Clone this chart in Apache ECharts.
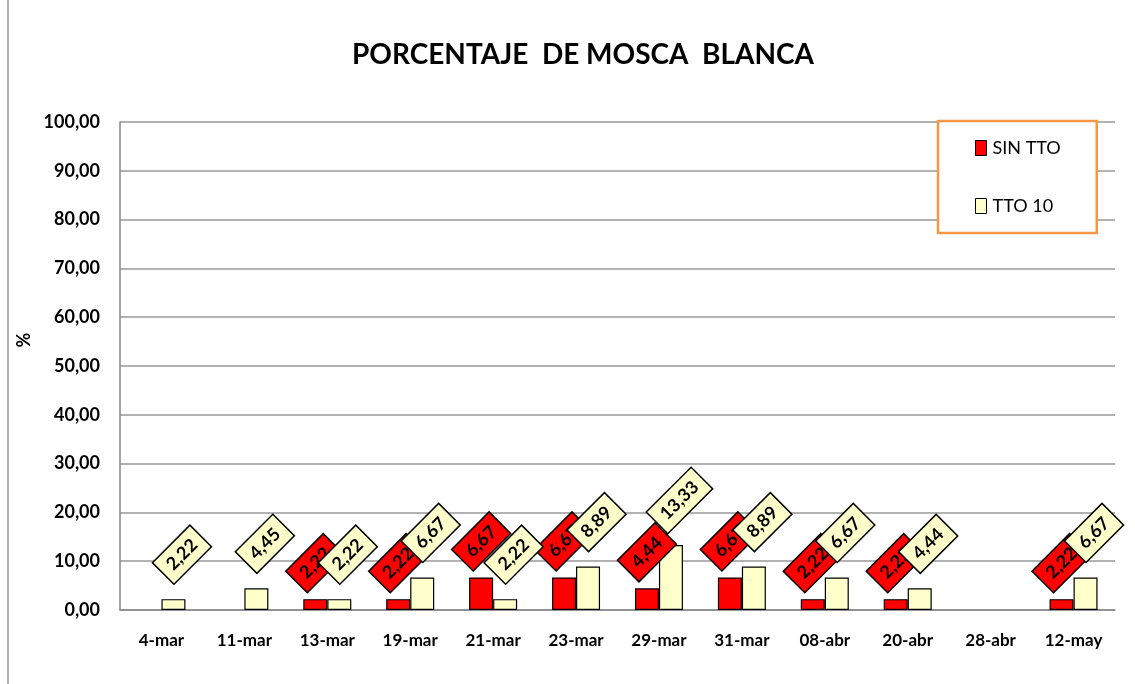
<!DOCTYPE html>
<html>
<head>
<meta charset="utf-8">
<script src="https://cdn.jsdelivr.net/npm/echarts@6/dist/echarts.min.js"></script>
<style>
  html, body { margin: 0; padding: 0; background: #fff; }
  #main { width: 1135px; height: 684px; }
</style>
</head>
<body>
<div id="main"></div>
<script>
var categories = ['4-mar', '11-mar', '13-mar', '19-mar', '21-mar', '23-mar', '29-mar', '31-mar', '08-abr', '20-abr', '28-abr', '12-may'];
var sinTto = [0, 0, 2.22, 2.22, 6.67, 6.67, 4.44, 6.67, 2.22, 2.22, 0, 2.22];
var tto10 = [2.22, 4.45, 2.22, 6.67, 2.22, 8.89, 13.33, 8.89, 6.67, 4.44, 0, 6.67];
var yTicks = [0, 10, 20, 30, 40, 50, 60, 70, 80, 90, 100];

var fontFam = 'Lato, "Open Sans", sans-serif';

function coma(v) {
    return v.toFixed(2).replace('.', ',');
}

// ceros: sin barra y sin etiqueta
function armar(arr) {
    return arr.map(function (v) {
        if (v > 0) return v;
        return { value: v, itemStyle: { borderWidth: 0 }, label: { show: false } };
    });
}

function serie(name, arr, color, dx) {
    return {
        name: name,
        type: 'bar',
        data: armar(arr),
        barWidth: 24,
        barGap: '0%',
        itemStyle: { color: color, borderColor: '#000', borderWidth: 1.2 },
        label: {
            show: true,
            position: 'top',
            distance: 36,
            offset: [dx, 0],
            rotate: 45,
            align: 'center',
            verticalAlign: 'middle',
            formatter: function (p) { return coma(p.value); },
            color: '#000',
            fontFamily: fontFam,
            fontWeight: 'bold',
            fontSize: 18,
            lineHeight: 21,
            backgroundColor: color,
            borderColor: '#000',
            borderWidth: 1.5,
            padding: [4, 8, 4, 8]
        }
    };
}

var myChart = echarts.init(document.getElementById('main'));
var option = {
    backgroundColor: '#fff',
    animation: false,
    title: {
        text: 'PORCENTAJE  DE MOSCA  BLANCA',
        left: 347,
        top: 36,
        textStyle: { fontFamily: fontFam, fontWeight: 'bold', fontSize: 28, color: '#000' }
    },
    graphic: [{
        type: 'rect',
        shape: { x: 8, y: -5, width: 1200, height: 720 },
        style: { fill: 'none', stroke: '#999', lineWidth: 1.5 },
        silent: true
    }],
    legend: {
        orient: 'vertical',
        left: 938,
        top: 121,
        padding: [18, 36, 18, 37],
        itemGap: 40,
        itemWidth: 11,
        itemHeight: 15,
        icon: 'rect',
        backgroundColor: '#fff',
        borderColor: '#F79646',
        borderWidth: 2.5,
        itemStyle: { borderColor: '#000', borderWidth: 1 },
        textStyle: { fontFamily: fontFam, fontSize: 18, color: '#000', padding: [0, 0, 0, 1] },
        data: ['SIN TTO', 'TTO 10']
    },
    grid: { left: 120, right: 20, top: 122, bottom: 74 },
    xAxis: {
        type: 'category',
        data: categories,
        axisLine: { lineStyle: { color: '#888', width: 1.5 } },
        axisTick: { show: false },
        axisLabel: { margin: 22, color: '#000', fontFamily: fontFam, fontWeight: 'bold', fontSize: 17 }
    },
    yAxis: {
        type: 'value',
        min: yTicks[0],
        max: yTicks[yTicks.length - 1],
        interval: yTicks[1] - yTicks[0],
        name: '%',
        nameLocation: 'middle',
        nameGap: 75,
        nameTextStyle: { fontFamily: fontFam, fontWeight: 'bold', fontSize: 18, color: '#000', padding: [0, 0, 0, 52] },
        axisLine: { show: true, lineStyle: { color: '#888', width: 1.5 } },
        axisTick: { show: false },
        splitLine: { lineStyle: { color: '#999', width: 1.5 } },
        axisLabel: {
            margin: 20,
            color: '#000',
            fontFamily: fontFam,
            fontWeight: 'bold',
            fontSize: 18,
            formatter: function (v) { return coma(v); }
        }
    },
    series: [
        serie('SIN TTO', sinTto, '#FF0000', 0),
        serie('TTO 10', tto10, '#FFFFCC', 12)
    ]
};
myChart.setOption(option);
</script>
</body>
</html>
